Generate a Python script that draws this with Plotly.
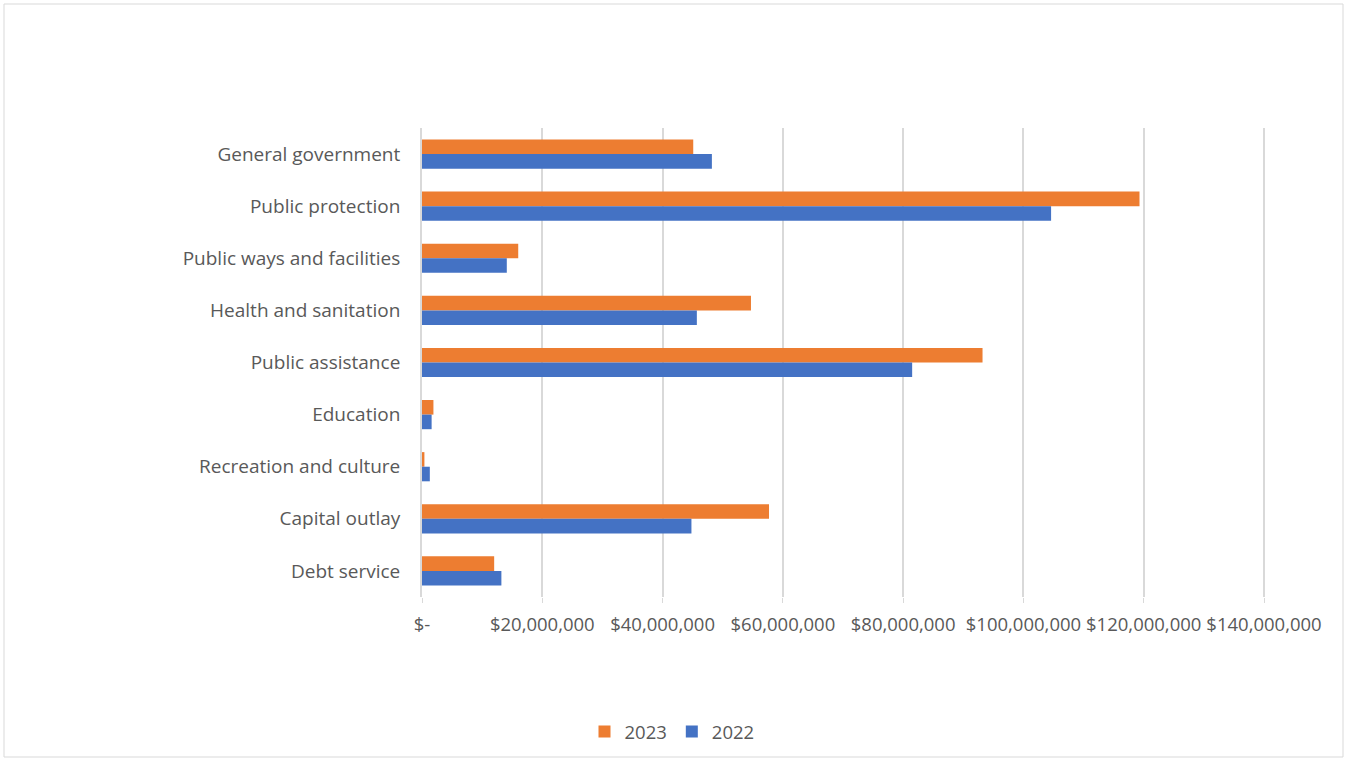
import plotly.graph_objects as go

categories = [
    "General government",
    "Public protection",
    "Public ways and facilities",
    "Health and sanitation",
    "Public assistance",
    "Education",
    "Recreation and culture",
    "Capital outlay",
    "Debt service",
]
values_2023 = [45.1e6, 119.3e6, 16.0e6, 54.7e6, 93.2e6, 1.9e6, 0.4e6, 57.7e6, 12.0e6]
values_2022 = [48.2e6, 104.6e6, 14.1e6, 45.7e6, 81.5e6, 1.6e6, 1.3e6, 44.8e6, 13.2e6]
tick_values = [0, 20e6, 40e6, 60e6, 80e6, 100e6, 120e6, 140e6]
tick_labels = ["$-", "$20,000,000", "$40,000,000", "$60,000,000", "$80,000,000",
               "$100,000,000", "$120,000,000", "$140,000,000"]

ORANGE = "#ED7D31"
BLUE = "#4472C4"
TEXT = "#595959"
GRID = "#D9D9D9"
FONT = "Open Sans"

# plot area in pixels (a sliver past the last tick so its gridline is kept)
L, R, T, B = 422, 1266, 128, 597
W, H = 1347, 761
PW, PH = R - L, B - T
X_MAX = 140e6 * (R - L) / (1264 - L)

fig = go.Figure()
fig.add_trace(go.Bar(name="2023", y=categories, x=values_2023, orientation="h",
                     marker=dict(color=ORANGE, line=dict(width=0))))
fig.add_trace(go.Bar(name="2022", y=categories, x=values_2022, orientation="h",
                     marker=dict(color=BLUE, line=dict(width=0))))

fig.update_layout(
    width=W, height=H,
    paper_bgcolor="white", plot_bgcolor="white",
    barmode="group", bargap=0.44, bargroupgap=0,
    margin=dict(l=L, r=W - R, t=T, b=H - B, autoexpand=False),
    font=dict(family=FONT, color=TEXT, size=18),
    xaxis=dict(
        range=[0, X_MAX], tickvals=tick_values, ticktext=tick_labels,
        tickangle=0,
        showgrid=True, gridcolor=GRID, gridwidth=1.8,
        zeroline=False, showline=False,
        ticks="outside", ticklen=5, tickcolor=GRID, tickwidth=1,
        ticklabelstandoff=6,
        tickfont=dict(size=18.5, color=TEXT, family=FONT),
        fixedrange=True,
    ),
    yaxis=dict(
        autorange="reversed", showgrid=False,
        showline=True, linecolor=GRID, linewidth=1.8,
        ticks="", ticklabelstandoff=16,
        tickfont=dict(size=19, color=TEXT, family=FONT),
        fixedrange=True,
    ),
    legend=dict(
        orientation="h",
        x=(672 - L) / PW, xanchor="center",
        y=(B - 732) / PH, yanchor="middle",
        font=dict(size=18.5, color=TEXT, family=FONT),
        itemwidth=30, traceorder="normal",
    ),
    shapes=[dict(type="rect", xref="paper", yref="paper",
                 x0=(4 - L) / PW, x1=(1343 - L) / PW,
                 y0=(B - 757) / PH, y1=(B - 4) / PH,
                 line=dict(color=GRID, width=1), fillcolor="rgba(0,0,0,0)",
                 layer="below")],
)

fig.write_html("out.html", config={"displayModeBar": False})
